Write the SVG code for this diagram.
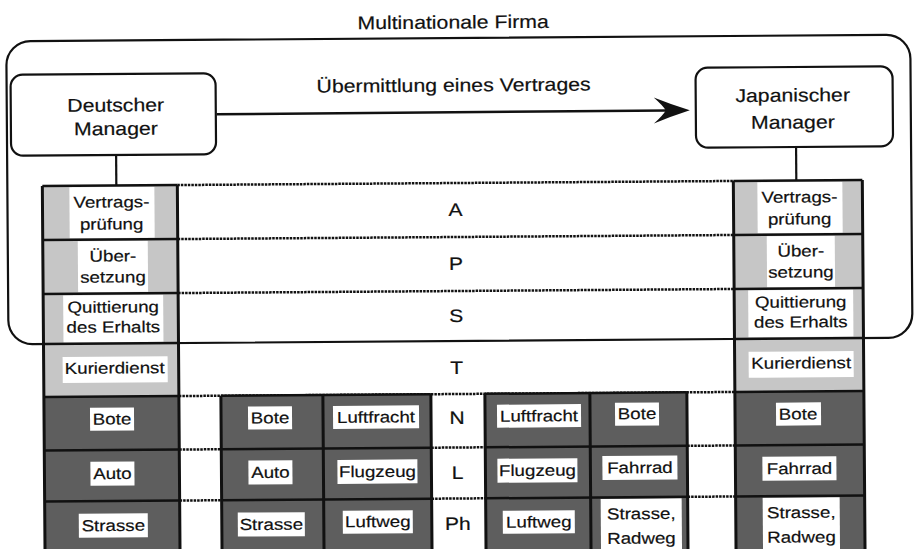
<svg xmlns="http://www.w3.org/2000/svg" width="917" height="549" viewBox="0 0 917 549">
<style>
.t{font-family:"Liberation Sans",Arial,Helvetica,sans-serif;fill:#111;stroke:#111;stroke-width:0.2;text-anchor:middle;transform-box:fill-box;transform-origin:center;transform:scaleX(1.17)}
.big{font-size:18.5px;transform:scaleX(1.15)}
.cell{font-size:16px}
.lay{font-size:18px}
.light{fill:#c6c6c6}
.dark{fill:#5e5e5e}
.wb{fill:#fff}
.dot{stroke:#111;stroke-width:2.5;stroke-dasharray:2.5 1;fill:none}
.ln{stroke:#111;stroke-width:2.5;fill:none}
.vb{stroke:#111;stroke-width:3;fill:none}
.box{fill:#fff;stroke:#111;stroke-width:2.2}
</style>
<rect width="917" height="549" fill="#fff"/>
<g transform="rotate(-0.42 458 275)">
<g id="firma">
<rect x="8" y="38" width="904" height="303" rx="24" fill="none" stroke="#111" stroke-width="2.2"/>
<text class="t big" x="455" y="28.5">Multinationale Firma</text>
</g>
<g id="connectors">
<line x1="117" y1="152.5" x2="117" y2="183" stroke="#111" stroke-width="2.2"/>
<line x1="797" y1="149.5" x2="797" y2="183" stroke="#111" stroke-width="2.2"/>
<line x1="218" y1="112.5" x2="668" y2="112" stroke="#111" stroke-width="2.5"/>
<path d="M691 112 Q672 106 655 99 Q664 107 667 112 Q664 117 655 125 Q672 118 691 112 Z" fill="#111"/>
<text class="t big" x="455" y="91.5">Übermittlung eines Vertrages</text>
</g>
<g id="de-manager">
<rect class="box" x="12" y="71.5" width="205" height="81" rx="12"/>
<text class="t big" x="117" y="109">Deutscher</text>
<text class="t big" x="117" y="132.5">Manager</text>
</g>
<g id="jp-manager">
<rect class="box" x="697" y="69.5" width="197" height="80" rx="12"/>
<text class="t big" x="794" y="104">Japanischer</text>
<text class="t big" x="794" y="131">Manager</text>
</g>
<g id="layer-lines">
<line class="dot" x1="178" y1="183" x2="734" y2="183"/>
<line class="dot" x1="178" y1="237" x2="734" y2="237"/>
<line class="dot" x1="178" y1="291" x2="734" y2="291"/>
<line class="dot" x1="178" y1="394" x2="734" y2="394"/>
<line class="dot" x1="178" y1="447.5" x2="220" y2="447.5"/>
<line class="dot" x1="430" y1="447.5" x2="484" y2="447.5"/>
<line class="dot" x1="686" y1="447.5" x2="734" y2="447.5"/>
<line class="dot" x1="178" y1="498.5" x2="220" y2="498.5"/>
<line class="dot" x1="430" y1="498.5" x2="484" y2="498.5"/>
<line class="dot" x1="686" y1="498.5" x2="734" y2="498.5"/>
<text class="t lay" x="456" y="216">A</text>
<text class="t lay" x="456" y="270">P</text>
<text class="t lay" x="456" y="322">S</text>
<text class="t lay" x="456" y="374">T</text>
<text class="t lay" x="456" y="424">N</text>
<text class="t lay" x="456" y="479">L</text>
<text class="t lay" x="456" y="530">Ph</text>
</g>
<g id="col-de">
<rect class="light" x="43" y="183" width="135" height="211"/>
<rect class="dark" x="43" y="394" width="135" height="158"/>
<rect class="wb" x="70" y="184.5" width="85" height="51"/>
<rect class="wb" x="78" y="238.5" width="70" height="51"/>
<rect class="wb" x="63" y="292.5" width="100" height="47"/>
<rect class="wb" x="62" y="354" width="105" height="26"/>
<rect class="wb" x="89" y="405" width="44" height="23"/>
<rect class="wb" x="89" y="459" width="44" height="24"/>
<rect class="wb" x="77" y="511" width="69" height="24"/>
<path class="ln" d="M43 183H178M43 237H178M43 291H178M43 341H178M43 394H178M43 447.5H178M43 498.5H178"/>
<path class="vb" d="M43 183V552M178 183V552"/>
<text class="t cell" x="112" y="205">Vertrags-</text>
<text class="t cell" x="112" y="227">prüfung</text>
<text class="t cell" x="113" y="259">Über-</text>
<text class="t cell" x="113" y="280">setzung</text>
<text class="t cell" x="113" y="310">Quittierung</text>
<text class="t cell" x="113" y="330">des Erhalts</text>
<text class="t cell" x="114" y="371">Kurierdienst</text>
<text class="t cell" x="111" y="422">Bote</text>
<text class="t cell" x="111" y="476.5">Auto</text>
<text class="t cell" x="111.5" y="528.5">Strasse</text>
</g>
<g id="col-jp">
<rect class="light" x="734" y="183" width="129" height="211"/>
<rect class="dark" x="734" y="394" width="129" height="158"/>
<rect class="wb" x="758" y="184.5" width="85" height="51"/>
<rect class="wb" x="767" y="238.5" width="68" height="51"/>
<rect class="wb" x="748" y="292.5" width="105" height="47"/>
<rect class="wb" x="748" y="354" width="105" height="26"/>
<rect class="wb" x="775" y="405" width="45" height="23"/>
<rect class="wb" x="761" y="459" width="74" height="24"/>
<rect class="wb" x="761" y="500" width="77" height="52"/>
<path class="ln" d="M734 183H863M734 237H863M734 291H863M734 341H863M734 394H863M734 447.5H863M734 498.5H863"/>
<path class="vb" d="M734 183V552M863 183V552"/>
<text class="t cell" x="800" y="205">Vertrags-</text>
<text class="t cell" x="800" y="227">prüfung</text>
<text class="t cell" x="801" y="259">Über-</text>
<text class="t cell" x="801" y="280">setzung</text>
<text class="t cell" x="800.5" y="310">Quittierung</text>
<text class="t cell" x="800.5" y="330">des Erhalts</text>
<text class="t cell" x="800.5" y="371">Kurierdienst</text>
<text class="t cell" x="797" y="422">Bote</text>
<text class="t cell" x="798" y="476.5">Fahrrad</text>
<text class="t cell" x="799.5" y="520.5">Strasse,</text>
<text class="t cell" x="799.5" y="545">Radweg</text>
</g>
<g id="route-left">
<rect class="dark" x="220" y="394" width="210" height="158"/>
<rect class="wb" x="247" y="405" width="44" height="23"/>
<rect class="wb" x="332" y="405" width="86" height="23"/>
<rect class="wb" x="247" y="459" width="44" height="24"/>
<rect class="wb" x="336" y="459" width="80" height="24"/>
<rect class="wb" x="236" y="511" width="67" height="24"/>
<rect class="wb" x="341" y="510" width="70" height="23"/>
<path class="ln" d="M220 394H430M220 447.5H430M220 498.5H430"/>
<path class="vb" d="M220 394V552M322 394V552M430 394V552"/>
<text class="t cell" x="269" y="422">Bote</text>
<text class="t cell" x="375" y="422">Luftfracht</text>
<text class="t cell" x="269" y="476.5">Auto</text>
<text class="t cell" x="376" y="476.5">Flugzeug</text>
<text class="t cell" x="269.5" y="528.5">Strasse</text>
<text class="t cell" x="376" y="526.5">Luftweg</text>
</g>
<g id="route-right">
<rect class="dark" x="484" y="394" width="202" height="158"/>
<rect class="wb" x="496" y="405" width="84" height="23"/>
<rect class="wb" x="614" y="404" width="44" height="23"/>
<rect class="wb" x="496" y="459" width="80" height="24"/>
<rect class="wb" x="601" y="457" width="75" height="24"/>
<rect class="wb" x="501" y="511" width="72" height="23"/>
<rect class="wb" x="599" y="500" width="81" height="52"/>
<path class="ln" d="M484 394H686M484 447.5H686M484 498.5H686"/>
<path class="vb" d="M484 394V552M589 394V552M686 394V552"/>
<text class="t cell" x="538" y="422">Luftfracht</text>
<text class="t cell" x="636" y="420.5">Bote</text>
<text class="t cell" x="536" y="476.5">Flugzeug</text>
<text class="t cell" x="638.5" y="474.5">Fahrrad</text>
<text class="t cell" x="537" y="528">Luftweg</text>
<text class="t cell" x="639.5" y="520.5">Strasse,</text>
<text class="t cell" x="639.5" y="545">Radweg</text>
</g>
</g>
</svg>
